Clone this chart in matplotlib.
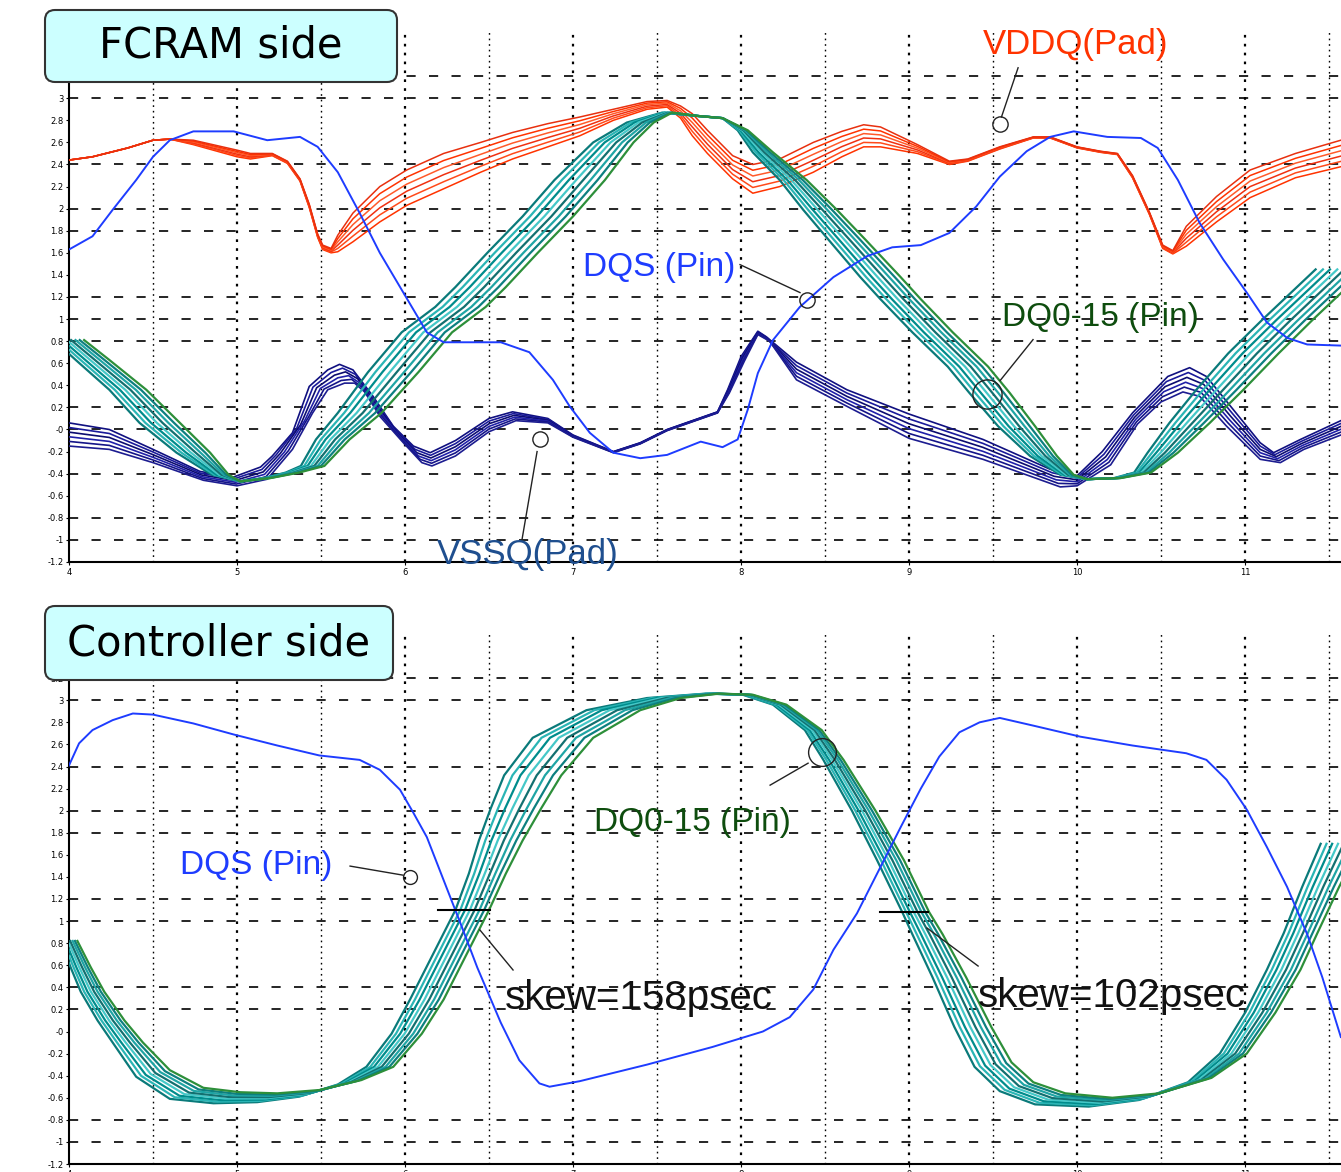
import numpy as np
import matplotlib
matplotlib.use("Agg")
import matplotlib.pyplot as plt
from matplotlib.patches import FancyBboxPatch

# ---------------- FCRAM side (upper plot) ----------------
# DQS at the FCRAM pin
dqs_top_t = [4.00, 4.14, 4.26, 4.40, 4.50, 4.60, 4.74, 4.98, 5.18, 5.375, 5.48, 5.60, 5.73, 5.85,
             5.99, 6.13, 6.23, 6.40, 6.57, 6.74, 6.88, 6.98, 7.10, 7.24, 7.40, 7.56, 7.76, 7.89,
             7.98, 8.04, 8.10, 8.19, 8.35, 8.55, 8.75, 8.90, 9.07, 9.24, 9.40, 9.54, 9.70, 9.84,
             9.98, 10.18, 10.38, 10.48, 10.60, 10.73, 10.87, 11.01, 11.13, 11.25, 11.37, 11.57]
dqs_top_v = [1.63, 1.75, 1.99, 2.26, 2.47, 2.62, 2.70, 2.70, 2.62, 2.65, 2.56, 2.33, 1.96, 1.60,
             1.24, 0.88, 0.79, 0.79, 0.79, 0.70, 0.45, 0.21, -0.03, -0.21, -0.26, -0.23, -0.11, -0.16,
             -0.09, 0.18, 0.51, 0.81, 1.11, 1.38, 1.57, 1.65, 1.67, 1.78, 2.02, 2.29, 2.52, 2.65,
             2.70, 2.65, 2.64, 2.55, 2.26, 1.87, 1.54, 1.24, 0.97, 0.83, 0.77, 0.76]

# VDDQ at the pads: upper and lower envelope of the traces
vddq_t = [4.00, 4.14, 4.35, 4.50, 4.60, 4.74, 5.00, 5.08, 5.21, 5.30, 5.375, 5.43, 5.48, 5.51,
          5.56, 5.60, 5.69, 5.85, 6.01, 6.23, 6.45, 6.64, 6.85, 7.04, 7.24, 7.44, 7.56, 7.64,
          7.71, 7.80, 7.95, 8.07, 8.23, 8.43, 8.60, 8.73, 8.83, 9.05, 9.24, 9.35, 9.54, 9.74,
          9.84, 10.00, 10.14, 10.24, 10.33, 10.43, 10.51, 10.57, 10.65, 10.83, 11.03, 11.30, 11.57]
vddq_hi = [2.44, 2.47, 2.55, 2.62, 2.63, 2.62, 2.53, 2.50, 2.50, 2.43, 2.27, 2.04, 1.77, 1.67,
           1.64, 1.76, 1.96, 2.20, 2.35, 2.50, 2.60, 2.69, 2.77, 2.83, 2.90, 2.97, 2.98, 2.93,
           2.86, 2.71, 2.48, 2.40, 2.45, 2.60, 2.70, 2.76, 2.74, 2.58, 2.43, 2.45, 2.56, 2.65,
           2.65, 2.56, 2.52, 2.50, 2.30, 1.97, 1.67, 1.62, 1.84, 2.11, 2.35, 2.50, 2.62]
vddq_lo = [2.44, 2.47, 2.55, 2.62, 2.63, 2.58, 2.47, 2.45, 2.48, 2.41, 2.25, 2.01, 1.74, 1.63,
           1.60, 1.61, 1.70, 1.88, 2.03, 2.18, 2.33, 2.45, 2.56, 2.66, 2.80, 2.90, 2.92, 2.82,
           2.66, 2.50, 2.27, 2.14, 2.20, 2.33, 2.47, 2.56, 2.56, 2.50, 2.40, 2.43, 2.54, 2.64,
           2.64, 2.55, 2.51, 2.49, 2.28, 1.95, 1.64, 1.59, 1.66, 1.88, 2.10, 2.28, 2.38]
vddq_fracs = [0.0, 0.2, 0.4, 0.6, 0.8, 1.0]

# VSSQ at the pads: earliest (a) and latest (b) trace
vssq_ta = [4.00, 4.24, 4.50, 4.78, 4.98, 5.14, 5.21, 5.33, 5.43, 5.54, 5.61, 5.69, 5.81, 5.93, 6.05,
           6.15, 6.30, 6.50, 6.64, 6.85, 7.00, 7.24, 7.40, 7.56, 7.86, 7.92, 8.00, 8.10, 8.15, 8.33,
           8.63, 9.00, 9.44, 9.84, 10.00, 10.15, 10.33, 10.54, 10.67, 10.77, 10.93, 11.09, 11.17,
           11.33, 11.57]
vssq_va = [0.06, 0.00, -0.18, -0.38, -0.43, -0.34, -0.24, -0.03, 0.39, 0.54, 0.59, 0.54, 0.30, 0.03,
           -0.15, -0.21, -0.10, 0.10, 0.16, 0.10, -0.05, -0.20, -0.12, 0.00, 0.16, 0.36, 0.66, 0.89,
           0.84, 0.61, 0.36, 0.14, -0.09, -0.36, -0.42, -0.20, 0.15, 0.48, 0.56, 0.48, 0.18, -0.12,
           -0.21, -0.09, 0.08]
vssq_tb = [4.00, 4.24, 4.50, 4.80, 5.00, 5.18, 5.33, 5.45, 5.54, 5.64, 5.70, 5.76, 5.85, 5.99, 6.10,
           6.16, 6.30, 6.50, 6.66, 6.85, 7.00, 7.24, 7.40, 7.56, 7.86, 7.93, 8.02, 8.10, 8.17, 8.33,
           8.63, 9.00, 9.44, 9.90, 10.00, 10.20, 10.36, 10.50, 10.63, 10.73, 10.89, 11.09, 11.21,
           11.35, 11.57]
vssq_vb = [-0.15, -0.18, -0.30, -0.46, -0.51, -0.45, -0.18, 0.15, 0.36, 0.42, 0.42, 0.34, 0.12, -0.12,
           -0.30, -0.33, -0.24, -0.02, 0.08, 0.06, -0.07, -0.21, -0.13, -0.01, 0.15, 0.33, 0.62, 0.86,
           0.80, 0.45, 0.21, -0.08, -0.27, -0.52, -0.51, -0.32, 0.05, 0.25, 0.34, 0.30, 0.03, -0.27,
           -0.30, -0.18, -0.05]
vssq_fracs = [0.0, 0.2, 0.4, 0.6, 0.8, 1.0]

# DQ0-15 at the FCRAM pins: centre of the bundle and its half spread in time
dq_top_t = [4.00, 4.14, 4.35, 4.54, 4.74, 4.90, 5.02, 5.18, 5.33, 5.45, 5.57, 5.73, 5.93, 6.13,
            6.33, 6.45, 6.64, 6.85, 7.04, 7.24, 7.40, 7.56, 7.74, 7.89, 8.01, 8.13, 8.31, 8.47,
            8.63, 8.83, 8.95, 9.14, 9.35, 9.48, 9.64, 9.80, 9.94, 10.06, 10.24, 10.39, 10.51,
            10.67, 10.85, 11.05, 11.25, 11.57]
dq_top_v = [0.81, 0.63, 0.36, 0.06, -0.21, -0.41, -0.47, -0.44, -0.39, -0.33, -0.09, 0.15, 0.52, 0.88,
            1.11, 1.29, 1.60, 1.93, 2.26, 2.60, 2.78, 2.87, 2.84, 2.82, 2.71, 2.51, 2.26, 1.99,
            1.72, 1.38, 1.18, 0.88, 0.57, 0.33, 0.03, -0.24, -0.41, -0.45, -0.44, -0.39, -0.21,
            0.06, 0.36, 0.69, 0.99, 1.45]
dq_top_dt = [0.09, 0.10, 0.11, 0.12, 0.10, 0.05, 0.00, 0.02, 0.04, 0.07, 0.10, 0.13, 0.15, 0.15,
             0.15, 0.15, 0.15, 0.15, 0.15, 0.12, 0.08, 0.03, 0.00, 0.00, 0.03, 0.06, 0.08, 0.10,
             0.11, 0.12, 0.12, 0.12, 0.12, 0.12, 0.11, 0.08, 0.04, 0.00, 0.02, 0.05, 0.09,
             0.12, 0.14, 0.15, 0.15, 0.15]

# ---------------- Controller side (lower plot) ----------------
dqs_bot_t = [4.00, 4.06, 4.14, 4.26, 4.38, 4.50, 4.74, 4.98, 5.24, 5.49, 5.73, 5.85, 5.97, 6.05,
             6.13, 6.23, 6.33, 6.43, 6.57, 6.68, 6.80, 6.86, 7.04, 7.44, 7.83, 8.13, 8.29, 8.43,
             8.55, 8.69, 8.83, 8.95, 9.07, 9.18, 9.30, 9.42, 9.54, 9.74, 10.02, 10.33, 10.65,
             10.77, 10.89, 11.01, 11.13, 11.25, 11.37, 11.46, 11.57]
dqs_bot_v = [2.41, 2.61, 2.73, 2.82, 2.88, 2.87, 2.79, 2.69, 2.59, 2.50, 2.46, 2.37, 2.19, 1.98,
             1.76, 1.37, 0.98, 0.58, 0.08, -0.26, -0.47, -0.50, -0.45, -0.30, -0.14, 0.00, 0.13, 0.38,
             0.74, 1.07, 1.49, 1.85, 2.20, 2.49, 2.71, 2.80, 2.84, 2.77, 2.67, 2.59, 2.52,
             2.46, 2.28, 2.01, 1.67, 1.31, 0.88, 0.49, -0.05]

dq_bot_t = [4.00, 4.07, 4.14, 4.25, 4.35, 4.50, 4.70, 4.94, 5.18, 5.43, 5.67, 5.85, 6.01, 6.13,
            6.25, 6.40, 6.49, 6.57, 6.66, 6.76, 6.94, 7.24, 7.54, 7.83, 8.04, 8.23, 8.43, 8.55, 8.73,
            8.89, 9.04, 9.11, 9.24, 9.38, 9.50, 9.64, 9.84, 10.14, 10.43, 10.73, 10.93, 11.09,
            11.23, 11.33, 11.45, 11.57]
dq_bot_v = [0.82, 0.58, 0.36, 0.10, -0.10, -0.38, -0.56, -0.60, -0.60, -0.56, -0.46, -0.32, -0.02, 0.29,
            0.65, 1.10, 1.43, 1.73, 2.02, 2.32, 2.66, 2.91, 3.02, 3.06, 3.05, 2.96, 2.73, 2.46, 2.00,
            1.55, 1.08, 0.88, 0.49, 0.04, -0.30, -0.50, -0.61, -0.64, -0.59, -0.44, -0.20, 0.17,
            0.56, 0.89, 1.31, 1.70]
dq_bot_dt = [0.05, 0.06, 0.07, 0.08, 0.09, 0.10, 0.10, 0.08, 0.06, 0.06, 0.07, 0.08, 0.09, 0.10,
             0.10, 0.10, 0.11, 0.13, 0.15, 0.17, 0.18, 0.16, 0.10, 0.04, 0.03, 0.04, 0.05, 0.06, 0.07,
             0.08, 0.08, 0.09, 0.10, 0.11, 0.11, 0.10, 0.09, 0.07, 0.06, 0.07, 0.08, 0.09,
             0.10, 0.10, 0.11, 0.12]
dq_bot_dv = [0.0, 0.0, 0.0, 0.0, 0.0, 0.03, 0.05, 0.05, 0.04, 0.03, 0.02, 0.0, 0.0, 0.0,
             0.0, 0.0, 0.0, 0.0, 0.0, 0.0, 0.0, 0.0, 0.0, 0.0, 0.0, 0.0, 0.0, 0.0, 0.0,
             0.0, 0.0, 0.0, 0.0, 0.0, 0.02, 0.04, 0.05, 0.04, 0.03, 0.02, 0.0, 0.0,
             0.0, 0.0, 0.0, 0.0]

dq_fracs = [-1.0, -0.71, -0.43, -0.14, 0.14, 0.43, 0.71, 1.0]

# skew read-outs at the reference level
skew_labels = ["skew=158psec", "skew=102psec"]
skew_level = 1.10

# grid lines that survive in the scope print
top_hgrid = [3.2, 3.0, 2.4, 2.0, 1.8, 1.2, 1.0, 0.8, 0.2, 0.0, -0.4, -0.8, -1.0]
bot_hgrid = [3.2, 3.0, 2.4, 2.0, 1.8, 1.2, 1.0, 0.4, 0.2, -0.8, -1.0]
vgrid = [4.5, 5, 5.5, 6, 6.5, 7, 7.5, 8, 8.5, 9, 9.5, 10, 10.5, 11, 11.5]

DQS_C = '#1e3cff'
VDDQ_COLORS = ['#ff3300', '#ff4a1a', '#f03010', '#ff5a2a', '#ff3300', '#e8300f']
VSSQ_COLORS = ['#101080', '#1a1a9a', '#0c0c70', '#2020a8', '#141488', '#1c1c90']
DQ_COLORS = ['#0a7a7a', '#2ab5b5', '#008c8c', '#45c8c8', '#137070', '#1fa5a5', '#0d8080', '#2d8f3a']
LABEL_FONT = ['Liberation Sans', 'DejaVu Sans']

W, H = 1341, 1172
fig = plt.figure(figsize=(W / 100, H / 100), dpi=100)
x0 = 69 / W
ax_top = fig.add_axes([x0, 1 - 562 / H, 1 - x0, 530 / H])
ax_bot = fig.add_axes([x0, 1 - 1164 / H, 1 - x0, 530 / H])


def setup(ax, hgrid):
    ax.set_xlim(4, 11.571)
    ax.set_ylim(-1.2, 3.6)
    for x in vgrid:
        heavy = float(x).is_integer()
        ax.axvline(x, color='k', ls=(0, (1.2, 2.8)), lw=1.6 if heavy else 1.0, zorder=0)
    for y in hgrid:
        ax.axhline(y, color='k', ls=(0, (5.5, 8)), lw=1.2, zorder=0)
    for s in ['top', 'right']:
        ax.spines[s].set_visible(False)
    for s in ['left', 'bottom']:
        ax.spines[s].set_linewidth(1.5)
    ax.set_xticks(range(4, 12))
    ax.set_yticks(np.round(np.arange(-1.2, 3.61, 0.2), 1))
    ax.yaxis.set_major_formatter(plt.FormatStrFormatter('%g'))
    ax.tick_params(labelsize=6, length=2, width=0.8, pad=2)


def shift_bundle(ax, t, v, dt, fracs, colors, dv=None, lw=1.0):
    t, v, dt = np.asarray(t), np.asarray(v), np.asarray(dt)
    dv = np.zeros_like(v) if dv is None else np.asarray(dv)
    for f, c in zip(fracs, colors):
        ax.plot(t + f * dt, v + f * dv, color=c, lw=lw, zorder=3)


def circle(ax, x, y, size):
    ax.plot(x, y, 'o', ms=size, mfc='none', mec='#222222', mew=1.0, zorder=6)


def leader(ax, xs, ys):
    ax.plot(xs, ys, color='#222222', lw=1.0, zorder=6)


# ---- upper plot ----
setup(ax_top, top_hgrid)
lo, hi = np.asarray(vddq_lo), np.asarray(vddq_hi)
for f, c in zip(vddq_fracs, VDDQ_COLORS):
    ax_top.plot(vddq_t, lo + f * (hi - lo), color=c, lw=1.1, zorder=3)

ta, va = np.asarray(vssq_ta), np.asarray(vssq_va)
tb, vb = np.asarray(vssq_tb), np.asarray(vssq_vb)
for f, c in zip(vssq_fracs, VSSQ_COLORS):
    ax_top.plot(ta + f * (tb - ta), va + f * (vb - va), color=c, lw=1.2, zorder=3)

shift_bundle(ax_top, dq_top_t, dq_top_v, dq_top_dt, dq_fracs, DQ_COLORS, lw=1.6)
ax_top.plot(dqs_top_t, dqs_top_v, color=DQS_C, lw=1.4, zorder=4)

ax_top.text(9.994, 3.484, "VDDQ(Pad)", color='#ff3300', fontsize=25, family=LABEL_FONT,
            ha='center', va='center', zorder=7)
leader(ax_top, [9.649, 9.55], [3.276, 2.83])
circle(ax_top, 9.542, 2.77, 11)

ax_top.text(7.512, 1.466, "DQS (Pin)", color=DQS_C, fontsize=24, family=LABEL_FONT,
            ha='center', va='center', zorder=7)
leader(ax_top, [7.994, 8.351], [1.493, 1.24])
circle(ax_top, 8.393, 1.176, 11)

ax_top.text(10.137, 1.014, "DQ0-15 (Pin)", color='#0e4d0e', fontsize=24, family=LABEL_FONT,
            ha='center', va='center', zorder=7)
leader(ax_top, [9.738, 9.542], [0.814, 0.443])
circle(ax_top, 9.464, 0.317, 21)

ax_top.text(6.732, -1.131, "VSSQ(Pad)", color='#1f4f8f', fontsize=25, family=LABEL_FONT,
            ha='center', va='center', zorder=7, clip_on=False)
leader(ax_top, [6.786, 6.696], [-0.2, -1.0])
circle(ax_top, 6.804, -0.09, 11)

# ---- lower plot ----
setup(ax_bot, bot_hgrid)
shift_bundle(ax_bot, dq_bot_t, dq_bot_v, dq_bot_dt, dq_fracs, DQ_COLORS, dv=dq_bot_dv, lw=1.6)
ax_bot.plot(dqs_bot_t, dqs_bot_v, color=DQS_C, lw=1.4, zorder=4)

ax_bot.text(5.113, 1.507, "DQS (Pin)", color=DQS_C, fontsize=24, family=LABEL_FONT,
            ha='center', va='center', zorder=7)
leader(ax_bot, [5.673, 5.988], [1.498, 1.416])
circle(ax_bot, 6.03, 1.398, 10)

ax_bot.text(7.708, 1.896, "DQ0-15 (Pin)", color='#0e4d0e', fontsize=24, family=LABEL_FONT,
            ha='center', va='center', zorder=7)
leader(ax_bot, [8.173, 8.399], [2.231, 2.43])
circle(ax_bot, 8.482, 2.529, 20)

# skew markers at the reference crossing
ax_bot.plot([6.196, 6.506], [skew_level, skew_level], color='k', lw=1.5, zorder=6)
leader(ax_bot, [6.446, 6.643], [0.919, 0.557])
ax_bot.text(6.595, 0.303, skew_labels[0], fontsize=29, family=LABEL_FONT, color='#111111',
            ha='left', va='center', zorder=7)

ax_bot.plot([8.827, 9.113], [skew_level - 0.02, skew_level - 0.02], color='k', lw=1.5, zorder=6)
leader(ax_bot, [9.107, 9.411], [0.937, 0.593])
ax_bot.text(9.411, 0.321, skew_labels[1], fontsize=29, family=LABEL_FONT, color='#111111',
            ha='left', va='center', zorder=7)

# ---- title boxes ----
for (px0, py0, px1, py1), title, fs in [((45, 10, 397, 82), "FCRAM side", 30),
                                        ((45, 606, 393, 680), "Controller side", 30)]:
    box = FancyBboxPatch((px0 / 100, (H - py1) / 100), (px1 - px0) / 100, (py1 - py0) / 100,
                         boxstyle='round,pad=0,rounding_size=0.1', transform=fig.dpi_scale_trans,
                         facecolor='#ccffff', edgecolor='#333333', lw=1.5, zorder=10)
    fig.add_artist(box)
    fig.text((px0 + px1) / 2 / W, 1 - (py0 + py1) / 2 / H, title, fontsize=fs,
             ha='center', va='center', color='k', zorder=11)

fig.savefig("out.png", dpi=100)
